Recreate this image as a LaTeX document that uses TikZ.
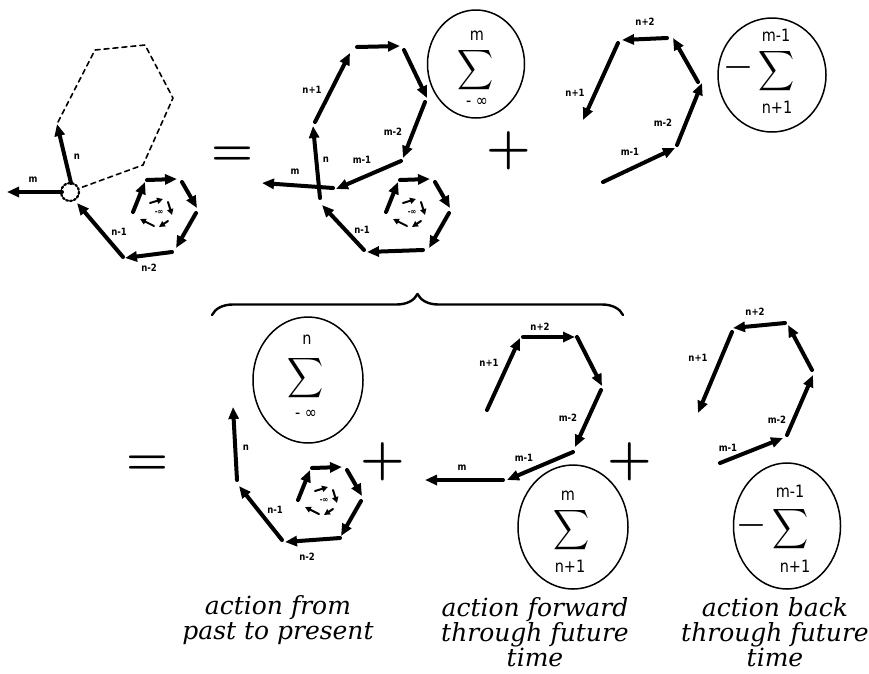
\documentclass[tikz,border=0pt]{standalone}
\usepackage{fontspec}
\usepackage{graphicx}
\usetikzlibrary{arrows.meta,decorations.pathreplacing,shapes.geometric}
\newfontfamily\tagfont[FakeStretch=0.85]{DejaVu Sans}
\newfontfamily\capfont{DejaVu Serif}
\newcommand\sig{\scalebox{2.5}[2.8]{$\displaystyle\sum$}}
\newcommand\coil[1]{%
  \begin{scope}[shift={#1}]
    \draw[arr] (-32,-3) -- (-20,-33);
    \draw[arr] (-18,-35) -- (12,-36);
    \draw[arr] (17,-33) -- (32,-7);
    \draw[arr] (31,-2) -- (11,33);
    \draw[sarr] (-15,-12) -- (-2,-16);
    \draw[sarr] (3,-13) -- (7,0);
    \draw[sarr] (3,6) -- (-6,12);
    \draw[sarr] (-11,11) -- (-25,4);
    \node[tag,font=\tagfont\bfseries\fontsize{8}{8}\selectfont] at (-6,-3) {-∞};
  \end{scope}}

\begin{document}
\begin{tikzpicture}[x=1pt,y=-1pt,line cap=round,line join=round,
  arr/.style={line width=4pt,-{Triangle[length=12pt,width=10pt]}},
  sarr/.style={line width=2pt,-{Triangle[length=6pt,width=6pt]}},
  tag/.style={font=\tagfont\bfseries\fontsize{10}{10}\selectfont,inner sep=0pt},
  idx/.style={font=\tagfont\fontsize{17}{17}\selectfont,inner sep=0pt},
  ring/.style={draw,ellipse,line width=1.5pt,inner sep=0pt},
  sign/.style={font=\bfseries\fontsize{51}{51}\selectfont,inner sep=0pt},
  captext/.style={font=\capfont\itshape\fontsize{25}{25}\selectfont,align=center,inner sep=0pt}]
  \useasboundingbox (0,0) rectangle (869,673);

  % top row, left: the loop closing on the present
  \draw[line width=1.6pt,dash pattern=on 5pt off 4pt] (58,122) -- (95,50) -- (145,45) -- (173,98) -- (143,165) -- (80,188);
  \draw[line width=2.2pt,dash pattern=on 2pt off 2pt] (70,192) circle (9);
  \draw[arr] (71,183) -- (57,124);
  \draw[arr] (62,192) -- (7,192);
  \draw[arr] (123,257) -- (77,203);
  \draw[arr] (172,252) -- (125,258);
  \coil{(165,215)}
  \node[tag] (tl-n) at (77,157) {n};
  \node[tag] (tl-m) at (33,180) {m};
  \node[tag] (tl-n1) at (119,232) {n-1};
  \node[tag] (tl-n2) at (149,268) {n-2};
  \node[sign,font=\bfseries\fontsize{48}{48}\selectfont] (eq-top) at (232,156) {=};

  % top row, middle
  \draw[arr] (320,198) -- (313,126);
  \draw[arr] (333,188) -- (262,183);
  \draw[arr] (315,122) -- (350,53);
  \draw[arr] (357,47) -- (400,46);
  \draw[arr] (404,50) -- (427,98);
  \draw[arr] (425,102) -- (403,158);
  \draw[arr] (401,161) -- (336,189);
  \draw[arr] (364,250) -- (322,205);
  \draw[arr] (423,250) -- (367,252);
  \coil{(418,215)}
  \node[tag] (tm-m) at (295,172) {m};
  \node[tag] (tm-n) at (326,160) {n};
  \node[tag] (tm-np1) at (312,90) {n+1};
  \node[tag] (tm-m2) at (393,132) {m-2};
  \node[tag] (tm-m1) at (362,160) {m-1};
  \node[tag] (tm-n1) at (362,230) {n-1};
  \node[ring,minimum width=97pt,minimum height=108pt] (sumall) at (476,64) {};
  \node[idx] (sumall-top) at (477,36) {m};
  \node[inner sep=0pt] (sumall-sig) at (476,70) {\sig};
  \node[idx] (sumall-bot) at (477,102) {- ∞};
  \node[sign] (plus-top) at (509,151) {+};

  % top row, right
  \draw[arr] (667,38) -- (622,40);
  \draw[arr] (618,43) -- (583,120);
  \draw[arr] (698,82) -- (673,38);
  \draw[arr] (677,145) -- (702,83);
  \draw[arr] (603,182) -- (675,148);
  \node[tag] (tr-np2) at (645,22) {n+2};
  \node[tag] (tr-np1) at (575,93) {n+1};
  \node[tag] (tr-m2) at (663,123) {m-2};
  \node[tag] (tr-m1) at (630,152) {m-1};
  \node[ring,minimum width=108pt,minimum height=114pt] (sumneg) at (772,75) {};
  \node[idx] (sumneg-top) at (776,35) {m-1};
  \node[sign,font=\bfseries\fontsize{32}{32}\selectfont] (sumneg-minus) at (738,71) {−};
  \node[inner sep=0pt] (sumneg-sig) at (777,71) {\sig};
  \node[idx] (sumneg-bot) at (777,107) {n+1};

  % brace over the two terms
  \draw[line width=2.4pt,decorate,decoration={brace,amplitude=21pt}] (212,315) -- (623,315);

  % bottom row, left
  \node[sign,font=\bfseries\fontsize{48}{48}\selectfont] (eq-bot) at (147,465) {=};
  \node[ring,minimum width=110pt,minimum height=126pt] (sumpast) at (308,380) {};
  \node[idx] (sumpast-top) at (307,340) {n};
  \node[inner sep=0pt] (sumpast-sig) at (306,378) {\sig};
  \node[idx] (sumpast-bot) at (306,414) {- ∞};
  \draw[arr] (237,480) -- (233,407);
  \draw[arr] (282,540) -- (239,486);
  \draw[arr] (340,538) -- (285,542);
  \coil{(330,503)}
  \node[tag] (bl-n) at (246,448) {n};
  \node[tag] (bl-n1) at (275,510) {n-1};
  \node[tag] (bl-n2) at (307,557) {n-2};
  \node[sign] (plus-bl) at (383,462) {+};

  % bottom row, middle
  \draw[arr] (487,410) -- (520,338);
  \draw[arr] (523,337) -- (575,337);
  \draw[arr] (577,337) -- (602,386);
  \draw[arr] (601,390) -- (575,447);
  \draw[arr] (573,452) -- (507,480);
  \draw[arr] (503,480) -- (425,480);
  \node[tag] (bm-np1) at (489,363) {n+1};
  \node[tag] (bm-np2) at (540,327) {n+2};
  \node[tag] (bm-m2) at (568,418) {m-2};
  \node[tag] (bm-m1) at (524,458) {m-1};
  \node[tag] (bm-m) at (462,468) {m};
  \node[sign] (plus-bm) at (630,462) {+};
  \node[ring,minimum width=110pt,minimum height=124pt] (sumfwd) at (573,527) {};
  \node[idx] (sumfwd-top) at (568,496) {m};
  \node[inner sep=0pt] (sumfwd-sig) at (572,530) {\sig};
  \node[idx] (sumfwd-bot) at (570,566) {n+1};

  % bottom row, right
  \draw[arr] (785,323) -- (733,328);
  \draw[arr] (732,332) -- (698,413);
  \draw[arr] (812,370) -- (788,325);
  \draw[arr] (787,435) -- (813,375);
  \draw[arr] (720,463) -- (783,438);
  \node[tag] (br-np2) at (755,312) {n+2};
  \node[tag] (br-np1) at (698,358) {n+1};
  \node[tag] (br-m2) at (777,420) {m-2};
  \node[tag] (br-m1) at (728,448) {m-1};
  \node[ring,minimum width=107pt,minimum height=126pt] (sumback) at (787,526) {};
  \node[idx] (sumback-top) at (790,491) {m-1};
  \node[sign,font=\bfseries\fontsize{32}{32}\selectfont] (sumback-minus) at (751,529) {−};
  \node[inner sep=0pt] (sumback-sig) at (791,529) {\sig};
  \node[idx] (sumback-bot) at (795,566) {n+1};

  % captions
  \node[captext] (cap-past) at (278,620) {action from\\past to present};
  \node[captext] (cap-fwd) at (535,632) {action forward\\through future\\time};
  \node[captext] (cap-back) at (775,632) {action back\\through future\\time};
\end{tikzpicture}
\end{document}
